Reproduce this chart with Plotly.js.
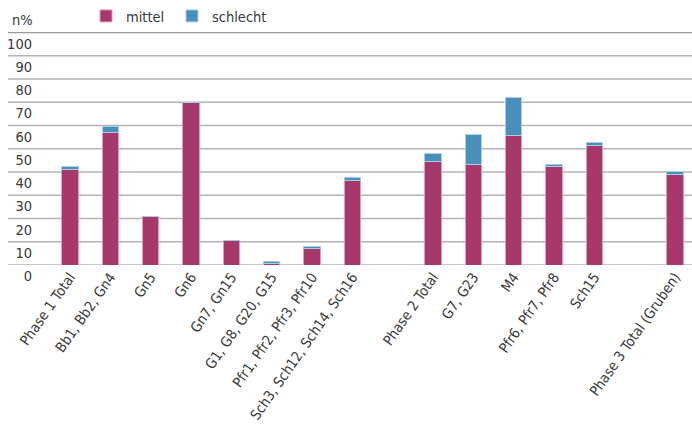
<!DOCTYPE html>
<html><head><meta charset="utf-8">
<script src="https://cdn.plot.ly/plotly-3.0.1.min.js"></script>
<style>html,body{margin:0;padding:0;background:#fff}#c{width:692px;height:430px}</style>
</head><body><div id="c"></div>
<script>
const categories = ['Phase 1 Total','Bb1, Bb2, Gn4','Gn5','Gn6','Gn7, Gn15','G1, G8, G20, G15','Pfr1, Pfr2, Pfr3, Pfr10','Sch3, Sch12, Sch14, Sch16','','Phase 2 Total','G7, G23','M4','Pfr6, Pfr7, Pfr8','Sch15','','Phase 3 Total (Gruben)'];
const mittel =   [41.1, 57.0, 20.7, 70.0, 10.5, 0.5, 6.9, 36.5, null, 44.5, 43.4, 55.9, 42.3, 51.3, null, 38.9];
const schlecht = [1.2,  2.4,  0,    0,    0,    1.0, 1.2, 1.2,  null, 3.6,  12.6, 16.0, 1.1,  1.3,  null, 1.1];
const yTicks = [0,10,20,30,40,50,60,70,80,90,100];
const seriesNames = ['mittel','schlecht'];

const FONT = '"DejaVu Sans Condensed","DejaVu Sans",sans-serif';
const TXT = '#3a3a3a';
const idx = categories.map((c,i)=>i);
const tickIdx = idx.filter(i=>categories[i]!=='');
const W = 692, L = 35, R = 0;
const plotW = W - L - R;

const traces = [
  {type:'bar', name:seriesNames[0], x:idx, y:mittel, width:0.4, legend:'legend',
   marker:{color:'#a8376c', line:{color:'#d8a0bd', width:1}}},
  {type:'bar', name:seriesNames[1], x:idx, y:schlecht, width:0.4, legend:'legend2',
   marker:{color:'#4a8fbb', line:{color:'#a9cfe6', width:1}}}
];

const gridShapes = yTicks.map(v=>({type:'line', xref:'paper', yref:'y', x0:-27/plotW, x1:1, y0:v, y1:v,
  line:{color: v===100 ? '#9a9a9a' : '#b4b4b4', width:1.6}, layer:'below'}));

const legendBase = {orientation:'h', y:1.0, yanchor:'bottom', xanchor:'left',
  font:{family:FONT, size:14.5, color:TXT}, bgcolor:'rgba(0,0,0,0)'};

const layout = {
  width:692, height:430, barmode:'stack', showlegend:true,
  margin:{l:L, r:R, t:30, b:165},
  paper_bgcolor:'#fff', plot_bgcolor:'#fff',
  font:{family:FONT, size:14, color:TXT},
  xaxis:{type:'linear', range:[-0.868, 15.42], tickmode:'array', tickvals:tickIdx,
    ticktext:tickIdx.map(i=>categories[i]), tickangle:-55, showgrid:false, zeroline:false,
    ticks:'', showline:false, tickfont:{family:FONT, size:14.3, color:TXT}},
  yaxis:{range:[0,100.2], tickmode:'array', tickvals:yTicks, ticktext:yTicks.map(String),
    showgrid:false, zeroline:false, ticks:'', ticklabelshift:11, ticklabelstandoff:2,
    tickfont:{family:FONT, size:14.5, color:TXT}},
  shapes:gridShapes,
  legend:Object.assign({}, legendBase, {x:(86-L)/plotW}),
  legend2:Object.assign({}, legendBase, {x:(172-L)/plotW}),
  annotations:[{text:'n%', xref:'paper', yref:'paper', x:-25/plotW, xanchor:'left', y:1, yanchor:'bottom',
    yshift:2, showarrow:false, font:{family:FONT, size:14.5, color:TXT}}]
};
Plotly.newPlot('c', traces, layout, {displayModeBar:false});
</script></body></html>
